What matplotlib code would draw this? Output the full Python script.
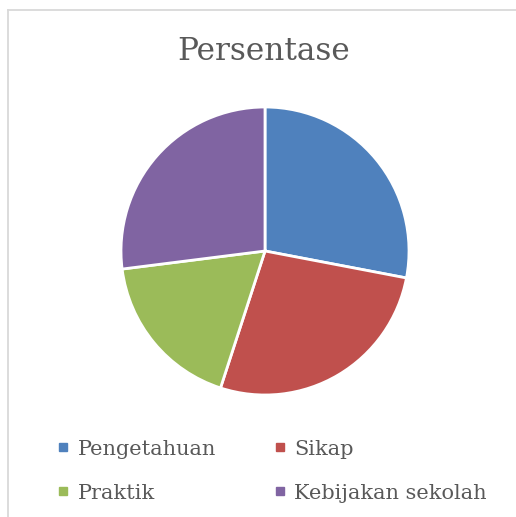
import matplotlib.pyplot as plt
from matplotlib.lines import Line2D

categories = ["Pengetahuan", "Sikap", "Praktik", "Kebijakan sekolah"]
values = [28, 27, 18, 27]
colors = ["#4F81BD", "#C0504D", "#9BBB59", "#8064A2"]

W, H = 516, 517
fig = plt.figure(figsize=(W / 100, H / 100), dpi=100)
plt.rcParams["font.family"] = ["DejaVu Serif"]

# chart frame (only left and top edges are visible in the crop)
frame_x, frame_y = 7.5 / W, 1 - 9.5 / H
fig.add_artist(Line2D([frame_x, 1.05], [frame_y, frame_y], transform=fig.transFigure,
                      color="#D9D9D9", linewidth=1.3))
fig.add_artist(Line2D([frame_x, frame_x], [frame_y, -0.05], transform=fig.transFigure,
                      color="#D9D9D9", linewidth=1.3))

# pie area: centre (265, 251), radius 144 px
cx, cy, r = 265, 251, 144
ax = fig.add_axes([(cx - r) / W, (H - cy - r) / H, 2 * r / W, 2 * r / H])
ax.pie(values, colors=colors, startangle=90, counterclock=False, radius=1,
       wedgeprops=dict(edgecolor="white", linewidth=2))
ax.set_xlim(-1, 1)
ax.set_ylim(-1, 1)
ax.set_aspect("equal")
ax.axis("off")

fig.text(264 / W, 1 - 52 / H, "Persentase", ha="center", va="center",
         fontsize=22.5, color="#595959")

# legend is filled row by row: reorder for matplotlib's column-major layout
order = [0, 2, 1, 3]
handles = [Line2D([], [], marker="s", linestyle="none", markersize=6,
                  markerfacecolor=colors[i], markeredgecolor=colors[i]) for i in order]
labels = [categories[i] for i in order]
fig.legend(handles, labels, loc="upper left", bbox_to_anchor=(38 / W, 1 - 421 / H),
           ncol=2, frameon=False, fontsize=15, labelcolor="#595959",
           handlelength=0.6, handletextpad=0.4, columnspacing=2.75, labelspacing=1.2)

fig.savefig("out.png", dpi=100, facecolor="white")
